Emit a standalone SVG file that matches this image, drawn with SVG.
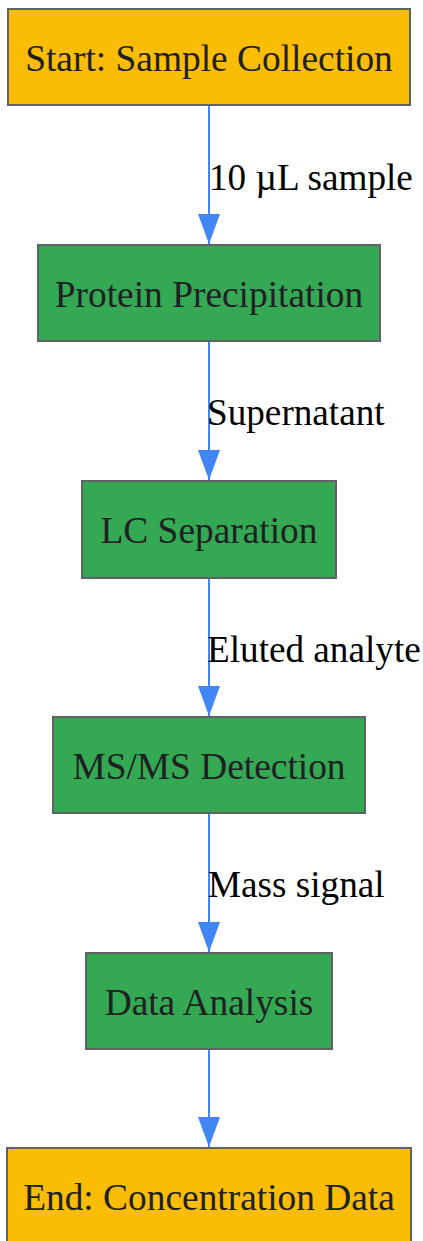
<svg xmlns="http://www.w3.org/2000/svg" width="423" height="1241" viewBox="0 0 423 1241">
<style>
.n rect{stroke:#5f6368;stroke-width:2}
.s{fill:#fbbc04}
.p{fill:#34a853}
.n text{font-family:"Liberation Serif",serif;font-size:37.4px;fill:#202124;text-anchor:middle}
.e line{stroke:#4285f4;stroke-width:2}
.e text{font-family:"Liberation Serif",serif;font-size:37.2px;fill:#000}
</style>
<defs>
<marker id="ah" markerUnits="userSpaceOnUse" markerWidth="30" markerHeight="22" refX="30" refY="11" orient="auto" viewBox="0 0 30 22">
<path d="M0,0 L30,11 L0,22 Z" fill="#4285f4"/>
</marker>
</defs>
<g class="e" id="connectors">
<line x1="209" y1="106" x2="209" y2="244" marker-end="url(#ah)"/>
<text x="209" y="190">10 µL sample</text>
<line x1="209" y1="342" x2="209" y2="480" marker-end="url(#ah)"/>
<text x="207" y="425">Supernatant</text>
<line x1="209" y1="579" x2="209" y2="716" marker-end="url(#ah)"/>
<text x="207" y="662">Eluted analyte</text>
<line x1="209" y1="814" x2="209" y2="952" marker-end="url(#ah)"/>
<text x="208" y="897">Mass signal</text>
<line x1="209" y1="1050" x2="209" y2="1147" marker-end="url(#ah)"/>
</g>
<g class="n" id="start"><rect class="s" x="8" y="9" width="402" height="96"/><text x="209" y="71">Start: Sample Collection</text></g>
<g class="n" id="protein"><rect class="p" x="38" y="245" width="342" height="96"/><text x="209" y="307">Protein Precipitation</text></g>
<g class="n" id="lc"><rect class="p" x="82" y="481" width="254" height="97"/><text x="209" y="543">LC Separation</text></g>
<g class="n" id="msms"><rect class="p" x="53" y="717" width="312" height="96"/><text x="209" y="779">MS/MS Detection</text></g>
<g class="n" id="data"><rect class="p" x="86" y="953" width="246" height="96"/><text x="209" y="1015">Data Analysis</text></g>
<g class="n" id="end"><rect class="s" x="7" y="1148" width="404" height="96"/><text x="209" y="1210">End: Concentration Data</text></g>
</svg>
